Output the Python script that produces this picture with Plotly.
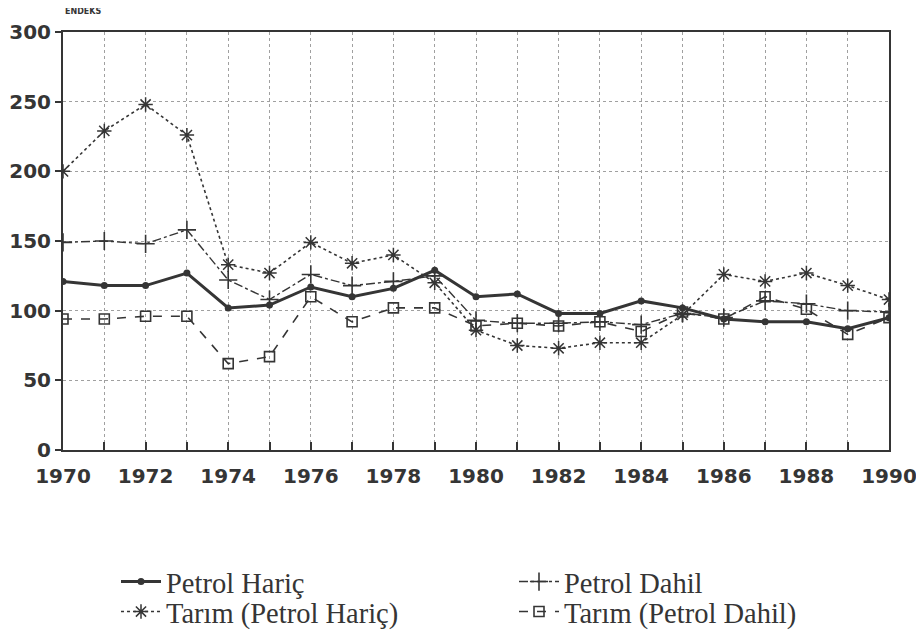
import plotly.graph_objects as go

years = list(range(1970, 1991))
petrol_haric = [121, 118, 118, 127, 102, 104, 117, 110, 116, 129, 110, 112, 98, 98, 107, 102, 94, 92, 92, 87, 95]
petrol_dahil = [149, 150, 148, 158, 122, 108, 126, 118, 121, 125, 93, 91, 91, 92, 90, 98, 95, 107, 105, 100, 99]
tarim_ph = [200, 229, 248, 226, 133, 127, 149, 134, 140, 120, 86, 75, 73, 77, 77, 97, 126, 121, 127, 118, 108]
tarim_pd = [94, 94, 96, 96, 62, 67, 110, 92, 102, 102, 89, 91, 89, 92, 85, 99, 94, 110, 101, 83, 95]
x_ticks = list(range(1970, 1991, 2))
y_ticks = [0, 50, 100, 150, 200, 250, 300]

INK = "#353535"
GRID = "#a0a0a0"

W, H = 916, 633  # page body has an 8px default margin

fig = go.Figure()
fig.add_trace(go.Scatter(
    x=years, y=petrol_haric, name="Petrol Hariç", mode="lines+markers", legend="legend",
    line=dict(color=INK, width=3, dash="solid"),
    marker=dict(symbol="circle", size=7, color=INK)))
fig.add_trace(go.Scatter(
    x=years, y=petrol_dahil, name="Petrol Dahil", mode="lines+markers", legend="legend",
    line=dict(color=INK, width=1.4, dash="dashdot"),
    marker=dict(symbol="cross-thin", size=13, color=INK, line=dict(color=INK, width=1.6))))
fig.add_trace(go.Scatter(
    x=years, y=tarim_ph, name="Tarım (Petrol Hariç)", mode="lines+markers", legend="legend2",
    line=dict(color=INK, width=1.6, dash="dot"),
    marker=dict(symbol="asterisk-open", size=12, color=INK, line=dict(color=INK, width=1.5))))
fig.add_trace(go.Scatter(
    x=years, y=tarim_pd, name="Tarım (Petrol Dahil)", mode="lines+markers", legend="legend2",
    line=dict(color=INK, width=1.6, dash="dash"),
    marker=dict(symbol="square-open", size=10, color=INK, line=dict(color=INK, width=1.6))))

leg_common = dict(
    orientation="h",
    xref="container", yref="container",
    x=108 / W, xanchor="left", yanchor="middle",
    entrywidth=343, entrywidthmode="pixels",
    font=dict(family="Liberation Serif", size=28.5, color=INK),
    itemwidth=40,
    bgcolor="rgba(0,0,0,0)",
)

fig.update_layout(
    width=W, height=H,
    margin=dict(l=55, r=35, t=24, b=191, autoexpand=False),
    paper_bgcolor="white", plot_bgcolor="white",
    showlegend=True,
    legend=dict(leg_common, y=59 / H),
    legend2=dict(leg_common, y=29 / H),
    annotations=[dict(
        text="ENDEKS", xref="paper", yref="paper",
        x=0, y=(450 - 12) / 418, xanchor="left", yanchor="middle",
        showarrow=False,
        font=dict(family="DejaVu Sans", size=8, color=INK, weight="bold"))],
)

fig.update_xaxes(
    range=[1970, 1990], tickvals=x_ticks, ticktext=[str(v) for v in x_ticks],
    ticks="inside", ticklen=8, tickwidth=1.5, tickcolor=INK,
    ticklabelstandoff=7,
    showline=True, linecolor=INK, linewidth=2, mirror=True,
    showgrid=True, gridcolor=GRID, griddash="dot", gridwidth=1,
    minor=dict(dtick=1, ticks="inside", ticklen=8, tickwidth=1.5, tickcolor=INK,
               showgrid=True, gridcolor=GRID, griddash="dot", gridwidth=1),
    tickfont=dict(family="DejaVu Sans", size=20, color=INK, weight="bold"),
    zeroline=False, automargin=False,
)
fig.update_yaxes(
    range=[0, 300], tickvals=y_ticks,
    ticks="outside", ticklen=6, tickwidth=1.5, tickcolor=INK,
    showline=True, linecolor=INK, linewidth=2, mirror=True,
    showgrid=True, gridcolor=GRID, griddash="dot", gridwidth=1,
    tickfont=dict(family="DejaVu Sans", size=20, color=INK, weight="bold"),
    zeroline=False, automargin=False,
)

fig.write_html("out.html")
